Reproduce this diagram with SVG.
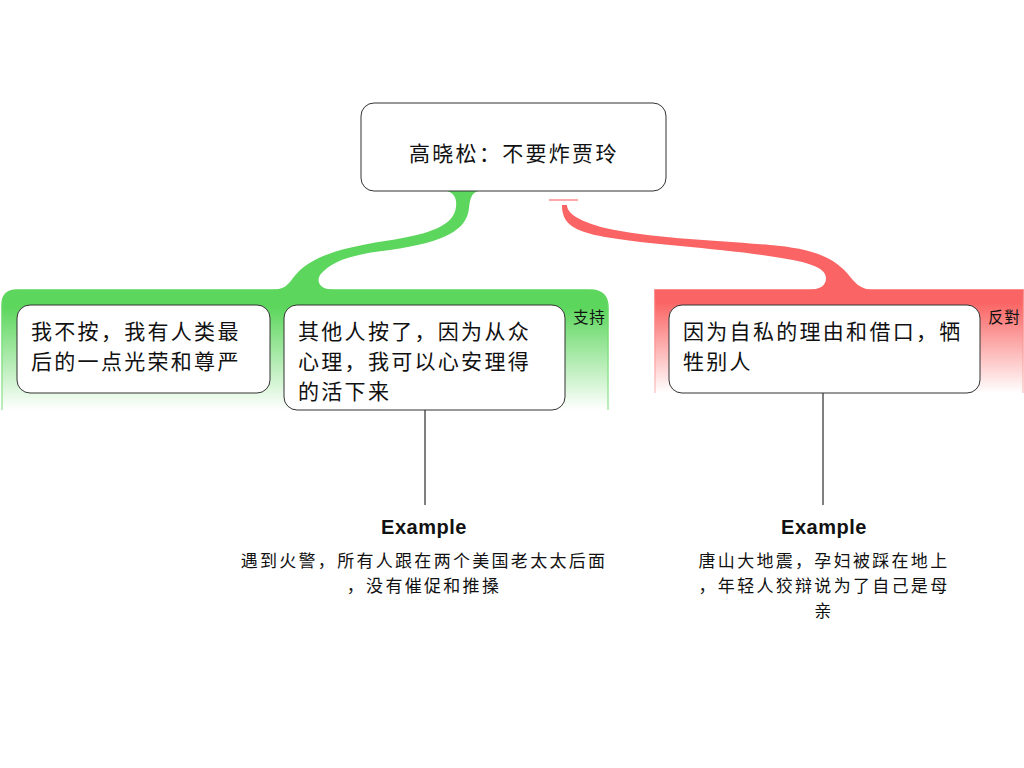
<svg xmlns="http://www.w3.org/2000/svg" width="1024" height="768" viewBox="0 0 1024 768">
<defs>
<linearGradient id="gg" x1="0" y1="0" x2="0" y2="1">
<stop offset="0" stop-color="#5cd65c"/><stop offset="0.14" stop-color="#5cd65c"/><stop offset="1" stop-color="#ffffff"/>
</linearGradient>
<linearGradient id="gs" x1="0" y1="0" x2="0" y2="1">
<stop offset="0" stop-color="#5cd65c"/><stop offset="1" stop-color="#a8e8a8"/>
</linearGradient>
<linearGradient id="rg" x1="0" y1="0" x2="0" y2="1">
<stop offset="0" stop-color="#fa6464"/><stop offset="0.12" stop-color="#fa6464"/><stop offset="1" stop-color="#ffffff"/>
</linearGradient>
<linearGradient id="rs" x1="0" y1="0" x2="0" y2="1">
<stop offset="0" stop-color="#fa6464"/><stop offset="1" stop-color="#fcc"/>
</linearGradient>
</defs>
<style>
.box{fill:#fff;stroke:#333;stroke-width:1}
.t{font-family:"Noto Sans CJK SC",sans-serif;font-size:21px;letter-spacing:2.3px;fill:#111}
.lab{font-family:"Noto Sans CJK SC",sans-serif;font-size:15.5px;letter-spacing:0.8px;fill:#111}
.ex{font-family:"Liberation Sans",Arial,sans-serif;font-size:20px;font-weight:bold;letter-spacing:0.5px;fill:#111}
.et{font-family:"Noto Sans CJK SC",sans-serif;font-size:17px;letter-spacing:2.3px;fill:#111}
.ln{stroke:#000;stroke-width:1;fill:none}
</style>
<g id="support-band">
<path d="M2,410 L2,305 Q2,290 17,290 L590,290 Q608,290 608,308 L608,410" fill="url(#gg)" stroke="url(#gs)" stroke-width="1.5"/>
<text class="lab" x="573" y="323">支持</text>
</g>
<g id="oppose-band">
<path d="M655,393 L655,290 L1023,290 L1023,393" fill="url(#rg)" stroke="url(#rs)" stroke-width="1.5"/>
<text class="lab" x="988" y="323">反對</text>
</g>
<g id="connectors">
<path d="M447,191 C454,193 457,198 456,207 C454,225 432,234 385,241 C335,249 308,258 293,278 C288,285 284,290 270,290 L335,290 C320,290 316,282 320,275 C332,260 355,254 390,250 C445,242 467,230 469,208 C470,198 472,193 478,191 Z" fill="#5cd65c"/>
<line x1="549" y1="200" x2="578" y2="200" stroke="#faa" stroke-width="2"/>
<path d="M562,205 C562,223 572,231 605,237 C650,245 720,248 775,257 C810,262 826,268 826,278 C826,286 820,289 810,290 L872,290 C860,289 855,283 847,273 C830,254 805,248 770,245 C710,240 650,238 605,228 C578,221 567,213 567,205 Z" fill="#fa6464"/>
<line class="ln" x1="425" y1="410" x2="425" y2="505"/>
<line class="ln" x1="823" y1="393" x2="823" y2="505"/>
</g>
<g id="root">
<rect class="box" x="361" y="103" width="305" height="88" rx="13"/>
<text class="t" x="409" y="161">高晓松：不要炸贾玲</text>
</g>
<g id="node1">
<rect class="box" x="17" y="305" width="253" height="88" rx="13"/>
<text class="t" x="31" y="339">我不按，我有人类最</text>
<text class="t" x="31" y="369">后的一点光荣和尊严</text>
</g>
<g id="node2">
<rect class="box" x="284" y="305" width="281" height="105" rx="13"/>
<text class="t" x="298" y="339">其他人按了，因为从众</text>
<text class="t" x="298" y="369">心理，我可以心安理得</text>
<text class="t" x="298" y="399">的活下来</text>
</g>
<g id="node3">
<rect class="box" x="669" y="305" width="311" height="88" rx="13"/>
<text class="t" x="683" y="339">因为自私的理由和借口，牺</text>
<text class="t" x="683" y="369">牲别人</text>
</g>
<g id="example1">
<text class="ex" x="424" y="534" text-anchor="middle">Example</text>
<text class="et" x="424" y="567" text-anchor="middle">遇到火警，所有人跟在两个美国老太太后面</text>
<text class="et" x="424" y="592" text-anchor="middle">，没有催促和推搡</text>
</g>
<g id="example2">
<text class="ex" x="824" y="534" text-anchor="middle">Example</text>
<text class="et" x="824" y="567" text-anchor="middle">唐山大地震，孕妇被踩在地上</text>
<text class="et" x="824" y="592" text-anchor="middle">，年轻人狡辩说为了自己是母</text>
<text class="et" x="824" y="617" text-anchor="middle">亲</text>
</g>
</svg>
